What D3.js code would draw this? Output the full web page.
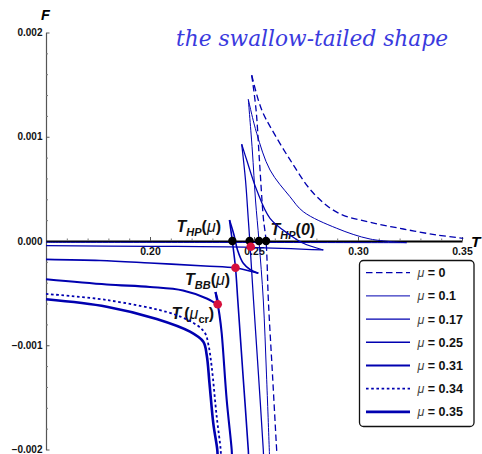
<!DOCTYPE html>
<html><head><meta charset="utf-8">
<script src="https://cdn.jsdelivr.net/npm/d3@7"></script>
<style>body{margin:0;background:#fff}svg{display:block}</style>
</head><body>
<svg id="c" width="482" height="454"></svg>
<script>
// ---- data ----
const muLabels = ["0", "0.1", "0.17", "0.25", "0.31", "0.34", "0.35"];
const xTicks = [0.20, 0.25, 0.30, 0.35];
const yTicks = [-0.002, -0.001, 0.000, 0.001, 0.002];
// each series: list of branches, each branch [T, F] points
const mu0 = [
  [[0.2489,0.00159],[0.2521,0.00135],[0.2545,0.00122],[0.2577,0.00110],[0.2673,0.00078],[0.2785,0.00046],[0.2904,0.00027],[0.3058,0.00018],[0.3218,0.000115],[0.3378,0.000058],[0.3506,0.000026]],
  [[0.2489,0.00159],[0.2510,0.001257],[0.2526,0.000777],[0.2545,0.00022],[0.2558,0],[0.2569,-0.000566],[0.2589,-0.001285],[0.2609,-0.002005],[0.26115,-0.00208]]
];
const mu01 = [
  [[0.24726,0.001359],[0.2513,0.001033],[0.2577,0.000681],[0.2673,0.000425],[0.2737,0.000281],[0.28976,0.000122],[0.3058,0.000019],[0.3234,-0.0000163]],
  [[0.3234,-0.0000163],[0.224,-0.0000134],[0.15,-0.0000125]],
  [[0.24726,0.001359],[0.24918,0.000873],[0.25072,0.000393],[0.2524,0],[0.25447,-0.000566],[0.25601,-0.001285],[0.25736,-0.002005],[0.2575,-0.00208]]
];
const mu017 = [
  [[0.24409,0.000928],[0.24649,0.000777],[0.2513,0.000489],[0.2577,0.000218],[0.2673,0.0000576],[0.2737,-0.0000221],[0.28332,-0.0000863]],
  [[0.28332,-0.0000863],[0.24808,-0.0000604],[0.2,-0.0000508],[0.15,-0.0000451]],
  [[0.24409,0.000928],[0.24591,0.000585],[0.24721,0.000221],[0.24798,0],[0.24976,-0.000566],[0.25216,-0.001285],[0.25447,-0.002005],[0.25462,-0.00208]]
];
const mu025 = [
  [[0.23822,0.000201],[0.24038,0.0000576],[0.24207,-0.0000863],[0.24486,-0.000214],[0.24808,-0.000273],[0.25207,-0.00031]],
  [[0.25207,-0.00031],[0.24135,-0.000259],[0.22644,-0.00024],[0.2,-0.000211],[0.17596,-0.000187],[0.15,-0.000176]],
  [[0.23822,0.000201],[0.23957,0],[0.2411,-0.000256],[0.2422,-0.000566],[0.24471,-0.001285],[0.24726,-0.002005],[0.2474,-0.00208]]
];
const mu031 = [
  [[0.15,-0.000367],[0.17918,-0.000417],[0.2,-0.000441],[0.21587,-0.000475],[0.22726,-0.000552],[0.23317,-0.000619]],
  [[0.23317,-0.000619],[0.23149,-0.000489]],
  [[0.23149,-0.000489],[0.23236,-0.000585],[0.23341,-0.00071],[0.23447,-0.000885],[0.23688,-0.001525],[0.23928,-0.002005],[0.23942,-0.00208]]
];
const mu034 = [
  [[0.15,-0.000508],[0.17918,-0.000566],[0.2112,-0.0007],[0.22245,-0.000806],[0.22644,-0.000883],[0.22813,-0.000998],[0.22966,-0.001206],[0.23207,-0.001685],[0.23399,-0.002005],[0.23413,-0.00208]]
];
const mu035 = [
  [[0.15,-0.000559],[0.17918,-0.00063],[0.20322,-0.000748],[0.21923,-0.00087],[0.22563,-0.000966],[0.22726,-0.001094],[0.2286,-0.001365],[0.23043,-0.001749],[0.23236,-0.002005],[0.2325,-0.00208]]
];
const hpDots = [[0.2396,0],[0.2479,0],[0.2524,0],[0.2558,0]];
const bbDots = [[0.24841,-0.0000547],[0.2411,-0.000256],[0.23255,-0.000607]];

// ---- styles ----
const series = [mu0, mu01, mu017, mu025, mu031, mu034, mu035];
const styles = [
  {dash:"6.5,3.5", w:1.3},
  {dash:null, w:1.0},
  {dash:null, w:1.25},
  {dash:null, w:1.6},
  {dash:null, w:2.1},
  {dash:"2.6,2.6", w:1.8},
  {dash:null, w:2.6}
];
const blue = "#0000b0";
const sans = "'Liberation Sans', Arial, sans-serif";

const svg = d3.select("#c");
const x = d3.scaleLinear().domain([0.15, 0.35]).range([46, 462]);
const y = d3.scaleLinear().domain([-0.002, 0.002]).range([449.5, 32.5]);

// title
svg.append("text").attr("x", 176).attr("y", 45.5)
  .attr("style", "font-family: 'DejaVu Serif', 'Liberation Serif', serif; font-style: italic;")
  .attr("font-size", 22).attr("fill", "#3a3ade")
  .attr("textLength", 272).attr("lengthAdjust", "spacingAndGlyphs")
  .text("the swallow-tailed shape");

// y axis
const minorY = d3.range(-0.002, 0.00201, 0.0002).filter(v => Math.abs(Math.round(v*1000) - v*1000) > 1e-6);
const yAx = svg.append("g").attr("transform", "translate(46,0)")
  .call(d3.axisLeft(y).tickValues(yTicks).tickSizeInner(-3.5).tickSizeOuter(0).tickPadding(3.5)
    .tickFormat(v => v === 0 ? "0.000" : (v < 0 ? "\u2212" : "") + d3.format(".3f")(Math.abs(v))));
yAx.select(".domain").attr("stroke", "#555").attr("stroke-width", 1.2);
yAx.selectAll(".tick line").attr("stroke", "#555");
yAx.selectAll("text").attr("font-family", sans).attr("font-weight", "bold").attr("font-size", 10).attr("fill", "#111");
const yMin = svg.append("g").attr("transform", "translate(46,0)")
  .call(d3.axisLeft(y).tickValues(minorY).tickSizeInner(-2).tickSizeOuter(0).tickFormat(""));
yMin.select(".domain").remove();
yMin.selectAll(".tick line").attr("stroke", "#777");

// x axis
const minorX = d3.range(0.15, 0.3501, 0.01).filter(v => Math.abs(Math.round(v*20) - v*20) > 1e-6);
const xAx = svg.append("g").attr("transform", "translate(0," + y(0) + ")")
  .call(d3.axisBottom(x).tickValues(xTicks).tickSizeInner(-4).tickSizeOuter(0).tickPadding(6.5)
    .tickFormat(d3.format(".2f")));
xAx.select(".domain").attr("stroke", "#000").attr("stroke-width", 2);
xAx.selectAll(".tick line").attr("stroke", "#555");
xAx.selectAll("text").attr("font-family", sans).attr("font-weight", "bold").attr("font-size", 10.5).attr("fill", "#111");
const xMin = svg.append("g").attr("transform", "translate(0," + y(0) + ")")
  .call(d3.axisBottom(x).tickValues(minorX).tickSizeInner(-2.5).tickSizeOuter(0).tickFormat(""));
xMin.select(".domain").remove();
xMin.selectAll(".tick line").attr("stroke", "#777");

// axis titles
svg.append("text").attr("x", 45.5).attr("y", 19.5).attr("text-anchor", "middle")
  .attr("font-family", sans).attr("font-weight", "bold").attr("font-style", "italic").attr("font-size", 14.5).text("F");
svg.append("text").attr("x", 471).attr("y", 246.5)
  .attr("font-family", sans).attr("font-weight", "bold").attr("font-style", "italic").attr("font-size", 15.5).text("T");

// annotation labels
function label(px, py, sub, arg, argSub) {
  const t = svg.append("text").attr("x", px).attr("y", py).attr("font-family", sans).attr("fill", "#111");
  t.append("tspan").attr("font-weight", "bold").attr("font-style", "italic").attr("font-size", 16).text("T");
  let shift = 0;
  if (sub) { t.append("tspan").attr("font-weight", "bold").attr("font-style", "italic").attr("font-size", 11).attr("dy", 4).text(sub); shift = 4; }
  t.append("tspan").attr("font-weight", "bold").attr("font-size", 16).attr("dy", -shift).attr("dx", sub ? 0 : 3).text("(");
  if (arg === "μ") t.append("tspan").attr("font-style", "italic").attr("font-size", 16).text("μ");
  else t.append("tspan").attr("font-weight", "bold").attr("font-style", "italic").attr("font-size", 16).text(arg);
  if (argSub) t.append("tspan").attr("font-weight", "bold").attr("font-size", 11).attr("dy", 4).text(argSub);
  t.append("tspan").attr("font-weight", "bold").attr("font-size", 16).attr("dy", argSub ? -4 : 0).text(")");
}
label(176.5, 231.5, "HP", "μ");
label(270.5, 234.5, "HP", "0");
label(185, 285, "BB", "μ");
label(171.5, 318.5, null, "μ", "cr");

// curves
const line = d3.line().x(d => x(d[0])).y(d => y(d[1])).curve(d3.curveCatmullRom.alpha(0.5));
series.forEach((branches, i) => {
  branches.forEach(b => {
    svg.append("path").attr("d", line(b)).attr("fill", "none").attr("stroke", blue)
      .attr("stroke-width", styles[i].w).attr("stroke-dasharray", styles[i].dash)
      .attr("stroke-linejoin", "round");
  });
});

// dots
svg.selectAll(".hp").data(hpDots).join("circle").attr("cx", d => x(d[0])).attr("cy", d => y(d[1])).attr("r", 4.2).attr("fill", "#000");
svg.selectAll(".bb").data(bbDots).join("circle").attr("cx", d => x(d[0])).attr("cy", d => y(d[1])).attr("r", 4.3).attr("fill", "#d6103c");

// legend
const lg = svg.append("g");
lg.append("rect").attr("x", 359.5).attr("y", 260.5).attr("width", 114.5).attr("height", 166).attr("rx", 4)
  .attr("fill", "#fff").attr("stroke", "#111").attr("stroke-width", 1.3);
muLabels.forEach((m, i) => {
  const cy = 272.7 + i * 23.2;
  lg.append("line").attr("x1", 366).attr("x2", 410).attr("y1", cy).attr("y2", cy)
    .attr("stroke", blue).attr("stroke-width", styles[i].w).attr("stroke-dasharray", styles[i].dash);
  const t = lg.append("text").attr("x", 417.5).attr("y", cy + 4.5).attr("font-family", sans).attr("font-size", 12.5);
  t.append("tspan").attr("font-style", "italic").attr("fill", "#444").text("μ");
  t.append("tspan").attr("font-weight", "bold").attr("fill", "#111").text(" = " + m);
});
</script>
</body></html>
